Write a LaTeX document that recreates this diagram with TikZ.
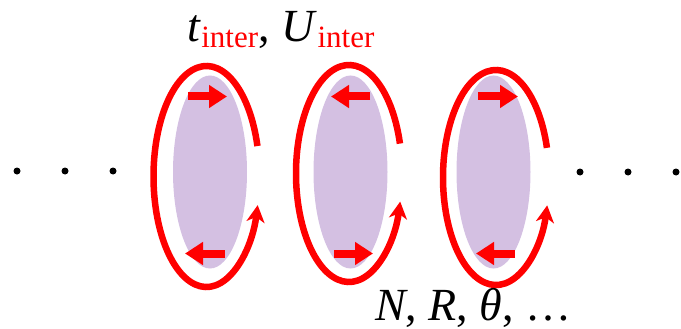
\documentclass[tikz,border=0pt]{standalone}
\usepackage{fontspec}
\setmainfont{Liberation Serif}
\usetikzlibrary{arrows.meta,shapes.geometric}
\definecolor{lav}{RGB}{212,192,226}
\definecolor{myred}{RGB}{255,0,0}
\begin{document}
\begin{tikzpicture}[x=1pt,y=-1pt,
  loopline/.style={draw=myred, line width=6.5pt, -{Stealth[length=17pt,width=18pt,inset=5pt]}},
  spin/.style={draw=myred, line width=8pt, -{Triangle[length=18pt,width=22pt]}},
  cell/.style={ellipse, fill=lav, minimum width=74pt, minimum height=193pt, inner sep=0pt},
  dotn/.style={circle, fill=black, minimum size=7pt, inner sep=0pt},
  lab/.style={inner sep=0pt, anchor=base west, text=black, font=\fontsize{46}{50}\selectfont},
  sub/.style={inner sep=0pt, anchor=base west, text=myred, font=\fontsize{31}{34}\selectfont}]
\useasboundingbox (0,0) rectangle (681,329);
% cells: index / ellipse x / loop cx / loop cy / loop ry / top arrow from,to / bottom arrow from,to
\foreach \i/\ex/\lx/\ly/\ry/\ta/\tb/\ba/\bb in {
    1/210/206.5/176.5/110.5/188/227/225/185,
    2/350.5/349/173.5/108.5/370/331/334/373,
    3/493.5/496/177.5/107.5/478/518/515/476}{
  \node[cell] (c\i) at (\ex,172) {};
  \coordinate (ls\i) at ({\lx+53*cos(-16)},{\ly+\ry*sin(-16)});
  \draw[loopline] (ls\i) arc[start angle=-16, end angle=-345, x radius=53, y radius=\ry];
  \coordinate (ta\i) at (\ta,96.5);
  \coordinate (tb\i) at (\tb,96.5);
  \coordinate (ba\i) at (\ba,253.5);
  \coordinate (bb\i) at (\bb,253.5);
  \draw[spin] (ta\i) -- (tb\i);
  \draw[spin] (ba\i) -- (bb\i);
}
% dots
\foreach \k/\x in {1/17,2/65,3/113}{ \node[dotn] (dl\k) at (\x,171) {}; }
\foreach \k/\x in {1/580,2/628,3/676}{ \node[dotn] (dr\k) at (\x,172) {}; }
% labels
\node[lab] (tt) at (187,42) {\textit{t}};
\node[sub] (ts) at ([yshift=-6pt]tt.base east) {inter};
\node[lab] (tc) at (ts.base east |- tt.base) {, \textit{U}};
\node[sub] (us) at ([yshift=-6pt]tc.base east) {inter};
\node[lab] (bot) at (375,320) {\textit{N}, \textit{R}, \textit{θ}, …};
\end{tikzpicture}
\end{document}
